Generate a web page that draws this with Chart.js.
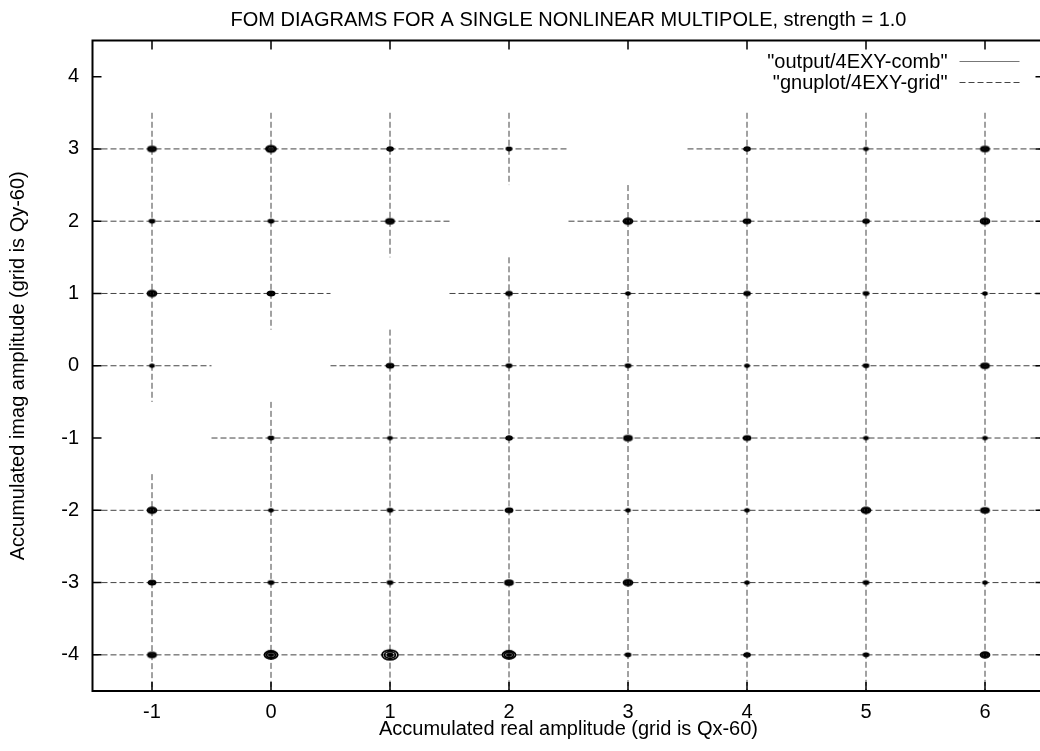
<!DOCTYPE html>
<html>
<head>
<meta charset="utf-8">
<title>FOM diagram</title>
<script src="https://cdn.jsdelivr.net/npm/chart.js@4.4.0/dist/chart.umd.min.js"></script>
<style>
  html, body { margin: 0; padding: 0; background: #fff; overflow: hidden; }
  #wrap { position: relative; width: 1052px; height: 751px; }
</style>
</head>
<body>
<div id="wrap"><canvas id="fom"></canvas></div>
<script>
// tune grid (Qx-60, Qy-60)
const tuneX = [-1, 0, 1, 2, 3, 4, 5, 6];
const tuneY = [3, 2, 1, 0, -1, -2, -3, -4];
const yTicks = [-4, -3, -2, -1, 0, 1, 2, 3, 4];
const plotTitle = 'FOM DIAGRAMS FOR A SINGLE NONLINEAR MULTIPOLE, strength = 1.0';

// loop half-width at each node; rows follow tuneY, columns follow tuneX
// null = no loop (diagonal resonance)
const loopAmp = [
  [0.034, 0.042, 0.025, 0.021, null, 0.025, 0.017, 0.034],
  [0.021, 0.021, 0.034, null, 0.038, 0.030, 0.025, 0.038],
  [0.038, 0.030, null, 0.025, 0.017, 0.025, 0.021, 0.017],
  [0.017, null, 0.030, 0.021, 0.021, 0.017, 0.021, 0.034],
  [null, 0.021, 0.017, 0.025, 0.034, 0.030, 0.017, 0.017],
  [0.038, 0.017, 0.021, 0.030, 0.017, 0.017, 0.038, 0.034],
  [0.030, 0.021, 0.021, 0.034, 0.038, 0.017, 0.021, 0.017],
  [0.034, 0.055, 0.067, 0.055, 0.021, 0.025, 0.021, 0.038]
];

// dashed grid pieces: [Qy, Qx from, Qx to]
const gridRows = [
  [-4, -1.5, 6.5], [-3, -1.5, 6.5], [-2, -1.5, 6.5], [-1, -0.5, 6.5],
  [0, -1.5, -0.5], [0, 0.5, 6.5],
  [1, -1.5, 0.5], [1, 1.5, 6.5],
  [2, -1.5, 1.5], [2, 2.5, 6.5],
  [3, -1.5, 2.5], [3, 3.5, 6.5]
];
// [Qx, Qy from, Qy to]
const gridCols = [
  [-1, 3.5, -0.5], [-1, -1.5, -4.5],
  [0, 3.5, 0.5], [0, -0.5, -4.5],
  [1, 3.5, 1.5], [1, 0.5, -4.5],
  [2, 3.5, 2.5], [2, 1.5, -4.5],
  [3, 2.5, -4.5], [4, 3.5, -4.5], [5, 3.5, -4.5], [6, 3.5, -4.5]
];

const loops = [];
tuneY.forEach((yv, r) => tuneX.forEach((xv, c) => {
  const amp = loopAmp[r][c];
  if (amp !== null) loops.push({ x: xv, y: yv, amp: amp });
}));

const gridPts = [];
gridRows.forEach(([y, a, b]) => gridPts.push({ x: a, y: y }, { x: b, y: y }, { x: b, y: null }));
gridCols.forEach(([x, a, b]) => gridPts.push({ x: x, y: a }, { x: x, y: b }, { x: x, y: null }));

// each loop is a circle in tune space -> ellipse on screen: outer turns plus a filled core
const glyphCache = {};
function loopGlyph(ctx) {
  const raw = ctx.raw;
  const xs = ctx.chart.scales.x, ys = ctx.chart.scales.y;
  if (!raw || !xs || !ys) return 'circle';
  const rx = Math.abs(xs.getPixelForValue(raw.x + raw.amp) - xs.getPixelForValue(raw.x));
  const ry = Math.abs(ys.getPixelForValue(raw.y + raw.amp) - ys.getPixelForValue(raw.y));
  const key = rx.toFixed(1) + ':' + ry.toFixed(1);
  if (glyphCache[key]) return glyphCache[key];
  const c = document.createElement('canvas');
  c.width = Math.ceil(rx * 2) + 4;
  c.height = Math.ceil(ry * 2) + 4;
  const cx = c.width / 2, cy = c.height / 2;
  const g = c.getContext('2d');
  g.strokeStyle = '#000';
  g.fillStyle = '#000';
  g.lineWidth = 1.8;
  [1, 0.68].forEach(k => {
    g.beginPath();
    g.ellipse(cx, cy, rx * k, ry * k, 0, 0, Math.PI * 2);
    g.stroke();
  });
  g.beginPath();
  g.ellipse(cx, cy, rx * 0.45, ry * 0.45, 0, 0, Math.PI * 2);
  g.fill();
  glyphCache[key] = c;
  return c;
}

// gnuplot-style border with inward ticks on all four sides, title over the plot box
const framePlugin = {
  id: 'frame',
  afterDatasetsDraw(chart) {
    const { ctx, chartArea: a, scales: { x, y } } = chart;
    ctx.save();
    ctx.strokeStyle = '#000';
    ctx.lineWidth = 1.5;
    ctx.beginPath();
    x.ticks.forEach(t => {
      const px = x.getPixelForValue(t.value);
      ctx.moveTo(px, a.top); ctx.lineTo(px, a.top + 9);
      ctx.moveTo(px, a.bottom); ctx.lineTo(px, a.bottom - 9);
    });
    y.ticks.forEach(t => {
      const py = y.getPixelForValue(t.value);
      ctx.moveTo(a.left, py); ctx.lineTo(a.left + 9, py);
      ctx.moveTo(a.right, py); ctx.lineTo(a.right - 9, py);
    });
    ctx.stroke();
    ctx.lineWidth = 2;
    ctx.strokeRect(a.left, a.top, a.right - a.left, a.bottom - a.top);

    ctx.font = '20px "Liberation Sans", Arial, sans-serif';
    ctx.fillStyle = '#000';
    ctx.textAlign = 'center';
    ctx.textBaseline = 'middle';
    ctx.fillText(plotTitle, (a.left + a.right) / 2, a.top - 20);
    ctx.restore();
  }
};

// key in the upper right corner: text first, line sample after it
const keyPlugin = {
  id: 'key',
  afterDraw(chart) {
    const { ctx, chartArea: a } = chart;
    const textRight = a.right - 97;
    ctx.save();
    ctx.font = '20px "Liberation Sans", Arial, sans-serif';
    ctx.fillStyle = '#000';
    ctx.textAlign = 'right';
    ctx.textBaseline = 'middle';
    chart.data.datasets.forEach((ds, i) => {
      const yy = a.top + 21 + i * 21;
      ctx.fillText(ds.label, textRight, yy + 0.5);
      ctx.beginPath();
      ctx.setLineDash(ds.borderDash || []);
      ctx.strokeStyle = ds.type === 'line' ? ds.borderColor : '#777';
      ctx.lineWidth = 1;
      ctx.moveTo(textRight + 12, yy);
      ctx.lineTo(textRight + 72, yy);
      ctx.stroke();
    });
    ctx.restore();
  }
};

Chart.defaults.font.family = '"Liberation Sans", Arial, Helvetica, sans-serif';
Chart.defaults.color = '#000';

new Chart(document.getElementById('fom'), {
  type: 'scatter',
  data: {
    datasets: [{
      label: '"output/4EXY-comb"',
      data: loops,
      borderColor: '#000',
      backgroundColor: '#000',
      pointStyle: loopGlyph,
      pointRadius: 3,
      order: 1
    }, {
      type: 'line',
      label: '"gnuplot/4EXY-grid"',
      data: gridPts,
      borderColor: '#444',
      borderWidth: 1,
      borderDash: [6, 3],
      pointRadius: 0,
      fill: false,
      spanGaps: false,
      order: 2
    }]
  },
  options: {
    responsive: true,
    maintainAspectRatio: false,
    animation: false,
    layout: { padding: { top: 40.5, right: 7.5, bottom: 0, left: 0 } },
    plugins: {
      legend: { display: false },
      tooltip: { enabled: false },
      title: { display: false }
    },
    scales: {
      x: {
        type: 'linear',
        min: -1.5,
        max: 6.5,
        grid: { display: false, drawTicks: false },
        border: { display: false },
        afterBuildTicks: s => { s.ticks = tuneX.map(v => ({ value: v })); },
        afterFit: s => { s.height = 60; },
        ticks: { padding: 9.5, font: { size: 20 }, color: '#000', autoSkip: false, maxRotation: 0, callback: v => String(v) },
        title: {
          display: true,
          text: 'Accumulated real amplitude (grid is Qx-60)',
          font: { size: 20 },
          color: '#000',
          padding: { top: 0, bottom: 10 }
        }
      },
      y: {
        type: 'linear',
        min: -4.5,
        max: 4.5,
        grid: { display: false, drawTicks: false },
        border: { display: false },
        afterBuildTicks: s => { s.ticks = yTicks.map(v => ({ value: v })); },
        afterFit: s => { s.width = 92.5; },
        ticks: { padding: 13.5, font: { size: 20 }, color: '#000', autoSkip: false, callback: v => String(v) },
        title: {
          display: true,
          text: 'Accumulated imag amplitude (grid is Qy-60)',
          font: { size: 20 },
          color: '#000',
          padding: { top: 6, bottom: 0 }
        }
      }
    }
  },
  plugins: [framePlugin, keyPlugin]
});
</script>
</body>
</html>
